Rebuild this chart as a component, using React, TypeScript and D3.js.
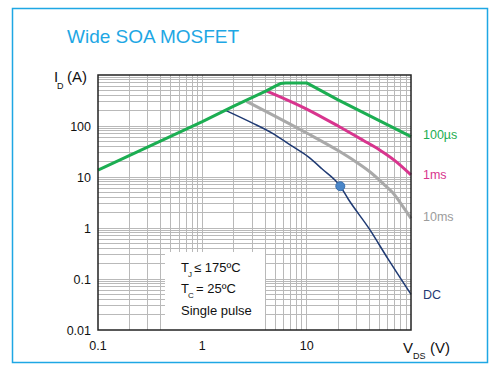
import React from "react";
import * as d3 from "d3";

// SOA curves: [V_DS (V), I_D (A)]
const curve100us: [number, number][] = [
  [0.1, 13.7], [1, 122], [2, 245], [4.1, 490], [5, 605], [5.6, 680], [6.3, 700],
  [10, 700], [20, 325], [100, 62],
];
const curve1ms: [number, number][] = [
  [4.1, 490], [10, 215], [20, 100], [35, 52], [50, 34], [70, 21], [100, 11],
];
const curve10ms: [number, number][] = [
  [2.65, 305], [10, 73], [20, 33], [30, 19.5], [40, 12.8], [55, 7.2],
  [67, 4.9], [84, 2.6], [100, 1.55],
];
const curveDC: [number, number][] = [
  [1.65, 205], [3, 115], [4.8, 70], [7, 42], [10.3, 25], [14, 14.5], [21, 6.6], [25, 3.7],
  [40, 0.95], [60, 0.25], [100, 0.05],
];
const dcMarker: [number, number] = [21, 6.6];

const xTickValues = [0.1, 1, 10];
const xTickLabels = ["0.1", "1", "10"];
const yTickValues = [0.01, 0.1, 1, 10, 100];
const yTickLabels = ["0.01", "0.1", "1", "10", "100"];

const seriesNames = ["100µs", "1ms", "10ms", "DC"];
const noteLines = ["≤ 175ºC", "= 25ºC", "Single pulse"];

const W = 492;
const H = 368;
const M = { left: 98, right: 411, top: 75, bottom: 330 };
const font = "'Liberation Sans', Arial, sans-serif";

const App = () => {
  const x = d3.scaleLog().domain([0.1, 100]).range([M.left, M.right]);
  const y = d3.scaleLog().domain([0.01, 1000]).range([M.bottom, M.top]);

  // log grid: 1..9 per decade
  const gridX: number[] = [];
  for (let d = -1; d < 2; d++) for (let k = 2; k <= 9; k++) gridX.push(k * Math.pow(10, d));
  gridX.push(1, 10);
  const gridY: number[] = [];
  for (let d = -2; d < 3; d++) for (let k = 2; k <= 9; k++) gridY.push(k * Math.pow(10, d));
  gridY.push(0.1, 1, 10, 100);

  const line = d3.line<[number, number]>().x((d) => x(d[0])).y((d) => y(d[1]));
  const smooth = d3
    .line<[number, number]>()
    .x((d) => x(d[0]))
    .y((d) => y(d[1]))
    .curve(d3.curveMonotoneX);

  const series = [
    { data: curve10ms, color: "#a9a9a9", w: 3, gen: smooth },
    { data: curveDC, color: "#1f3a73", w: 1.5, gen: smooth },
    { data: curve1ms, color: "#d8358e", w: 3, gen: smooth },
    { data: curve100us, color: "#1cae52", w: 3, gen: line },
  ];

  const labels = [
    { t: seriesNames[0], color: "#1cae52", yb: 139 },
    { t: seriesNames[1], color: "#d8358e", yb: 179 },
    { t: seriesNames[2], color: "#9c9c9c", yb: 221 },
    { t: seriesNames[3], color: "#1f3a73", yb: 299 },
  ];

  return (
    <svg
      width={W}
      height={H}
      style={{ position: "absolute", left: 0, top: 0, background: "#fff" }}
      fontFamily={font}
    >
      <rect x={12.5} y={8.5} width={475} height={354} fill="#fff" stroke="#1ea7e4" strokeWidth={1.5} />
      <text x={67} y={43} fontSize={19} fill="#1ea7e4">
        Wide SOA MOSFET
      </text>

      {/* grid */}
      <g stroke="#b9b9b9" strokeWidth={1} shapeRendering="crispEdges">
        {gridX.map((v, i) => (
          <line key={"gx" + i} x1={x(v)} x2={x(v)} y1={M.top} y2={M.bottom} />
        ))}
        {gridY.map((v, i) => (
          <line key={"gy" + i} x1={M.left} x2={M.right} y1={y(v)} y2={y(v)} />
        ))}
      </g>

      {/* note box */}
      <rect x={165} y={252} width={100} height={M.bottom - 252} fill="#fff" />
      <g fontSize={13} fill="#111">
        <text x={181} y={272}>T</text>
        <text x={188} y={277} fontSize={8}>J</text>
        <text x={194} y={272}>{noteLines[0]}</text>
        <text x={181} y={293}>T</text>
        <text x={188} y={298} fontSize={8}>C</text>
        <text x={196} y={293}>{noteLines[1]}</text>
        <text x={181} y={315}>{noteLines[2]}</text>
      </g>

      {/* curves */}
      {series.map((s, i) => (
        <path
          key={i}
          d={s.gen(s.data) || ""}
          fill="none"
          stroke={s.color}
          strokeWidth={s.w}
          strokeLinejoin="round"
        />
      ))}
      <circle cx={x(dcMarker[0])} cy={y(dcMarker[1])} r={4.5} fill="#4a86c8" stroke="#3b70ae" strokeWidth={1} />

      {/* frame */}
      <rect
        x={M.left}
        y={M.top}
        width={M.right - M.left}
        height={M.bottom - M.top}
        fill="none"
        stroke="#222"
        strokeWidth={1.5}
      />

      {/* tick labels */}
      <g fontSize={12.5} fill="#111">
        {yTickValues.map((v, i) => (
          <text key={"yl" + i} x={91} y={y(v) + 4.5} textAnchor="end">
            {yTickLabels[i]}
          </text>
        ))}
        {xTickValues.map((v, i) => (
          <text key={"xl" + i} x={x(v)} y={350} textAnchor="middle">
            {xTickLabels[i]}
          </text>
        ))}
      </g>

      {/* axis titles */}
      <g fill="#111">
        <text x={54} y={82} fontSize={15}>I</text>
        <text x={57} y={89} fontSize={9}>D</text>
        <text x={67} y={82} fontSize={15}>(A)</text>
        <text x={403} y={353} fontSize={15}>V</text>
        <text x={413} y={359} fontSize={9}>DS</text>
        <text x={430} y={353} fontSize={15}>(V)</text>
      </g>

      {/* series labels */}
      <g fontSize={12.5}>
        {labels.map((l, i) => (
          <text key={"sl" + i} x={423} y={l.yb} fill={l.color}>
            {l.t}
          </text>
        ))}
      </g>
    </svg>
  );
};

export default App;
